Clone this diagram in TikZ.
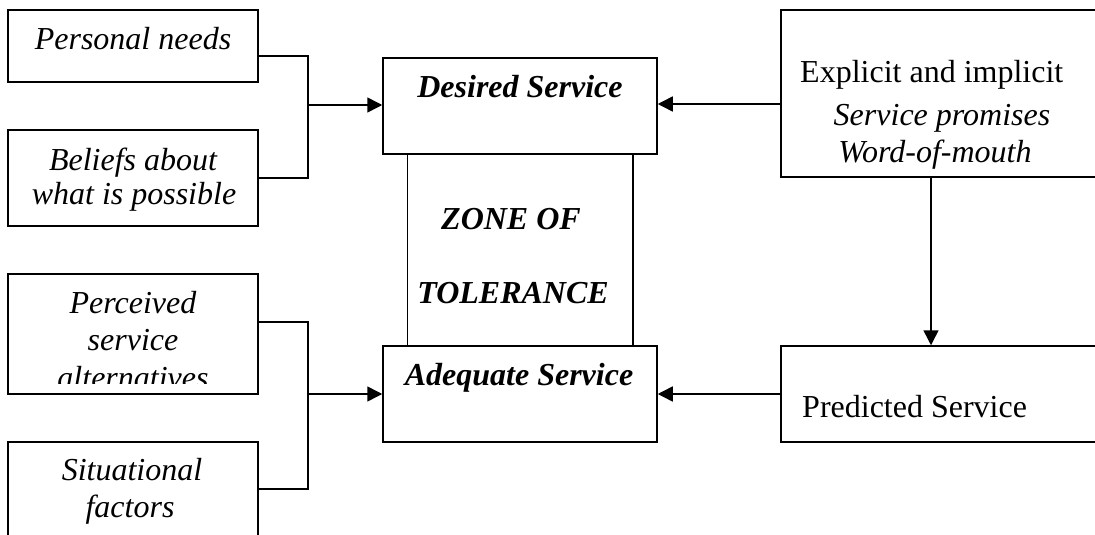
\documentclass[tikz,border=0pt]{standalone}
\usepackage{fontspec}
\setmainfont{Liberation Serif}
\usetikzlibrary{arrows.meta}
\tikzset{
  box/.style={draw, line width=1.5pt, rectangle, inner sep=0pt},
  conn/.style={line width=1.5pt},
  arr/.style={line width=1.5pt, -{Triangle[length=15pt,width=15pt]}},
  txt/.style={inner sep=0pt, anchor=base, font=\fontsize{32}{38}\selectfont},
  ltxt/.style={txt, anchor=base west}
}
\begin{document}
\begin{tikzpicture}[x=1pt,y=-1pt]
\useasboundingbox (0,0) rectangle (1095,535);
\clip (0,0) rectangle (1095,535);
\fill[white] (0,0) rectangle (1095,535);
% boxes
\node[box, minimum width=250pt, minimum height=72pt] (pn) at (133,46) {};
\node[box, minimum width=250pt, minimum height=96pt] (bel) at (133,178) {};
\node[box, minimum width=250pt, minimum height=120pt] (per) at (133,334) {};
\node[box, minimum width=250pt, minimum height=118pt] (sit) at (133,501) {};
\node[box, minimum width=274pt, minimum height=96pt] (des) at (520,106) {};
\node[box, minimum width=274pt, minimum height=96pt] (ade) at (520,394) {};
\node[box, minimum width=329pt, minimum height=167pt] (exp) at (945.5,93.5) {};
\node[box, minimum width=329pt, minimum height=96pt] (pre) at (945.5,394) {};
% texts
\node[txt] (tpn) at (133,50) {\itshape Personal needs};
\node[txt] (tbel1) at (133,170) {\itshape Beliefs about};
\node[txt] (tbel2) at (134,204) {\itshape what is possible};
\node[txt] (tper1) at (133,313) {\itshape Perceived};
\node[txt] (tper2) at (133,350) {\itshape service};
\begin{scope}
\clip (8,274) rectangle (258,383);
\node[txt] (tper3) at (133,388) {\itshape alternatives};
\end{scope}
\node[txt] (tsit1) at (132,480) {\itshape Situational};
\node[txt] (tsit2) at (130,517) {\itshape factors};
\node[txt] (tdes) at (520,97) {\bfseries\itshape Desired Service};
\node[txt] (tz1) at (511,229) {\bfseries\itshape ZONE OF};
\node[txt] (tz2) at (513,303) {\bfseries\itshape TOLERANCE};
\node[txt] (tade) at (519,385) {\bfseries\itshape Adequate Service};
\node[ltxt] (texp1) at (800,82) {Explicit and implicit};
\node[txt] (texp2) at (942,125) {\itshape Service promises};
\node[txt] (texp3) at (935,162) {\itshape Word-of-mouth};
\node[ltxt] (tpre) at (802,417) {Predicted Service};
% left upper connectors
\coordinate (j1) at (308,105);
\coordinate (j2) at (308,394);
\draw[conn] ([yshift=-10pt]pn.east) -| (j1) |- (bel.east);
\draw[arr] (j1) -- (j1 -| des.west);
\draw[conn] ([yshift=12pt]per.east) -| (j2) |- ([yshift=12pt]sit.east);
\draw[arr] (j2) -- (j2 -| ade.west);
% right connectors
\draw[arr] ([yshift=2pt]des.east -| exp.west) -- ([yshift=2pt]des.east);
\draw[arr] (pre.west |- ade.east) -- (ade.east);
\draw[arr] ([xshift=-14.5pt]exp.south) -- ([xshift=-14.5pt]pre.north);
% zone of tolerance lines
\draw[conn] ([xshift=25pt]des.south west) -- ([xshift=25pt]ade.north west);
\draw[conn] ([xshift=-25pt]des.south east) -- ([xshift=-25pt]ade.north east);
\end{tikzpicture}
\end{document}
